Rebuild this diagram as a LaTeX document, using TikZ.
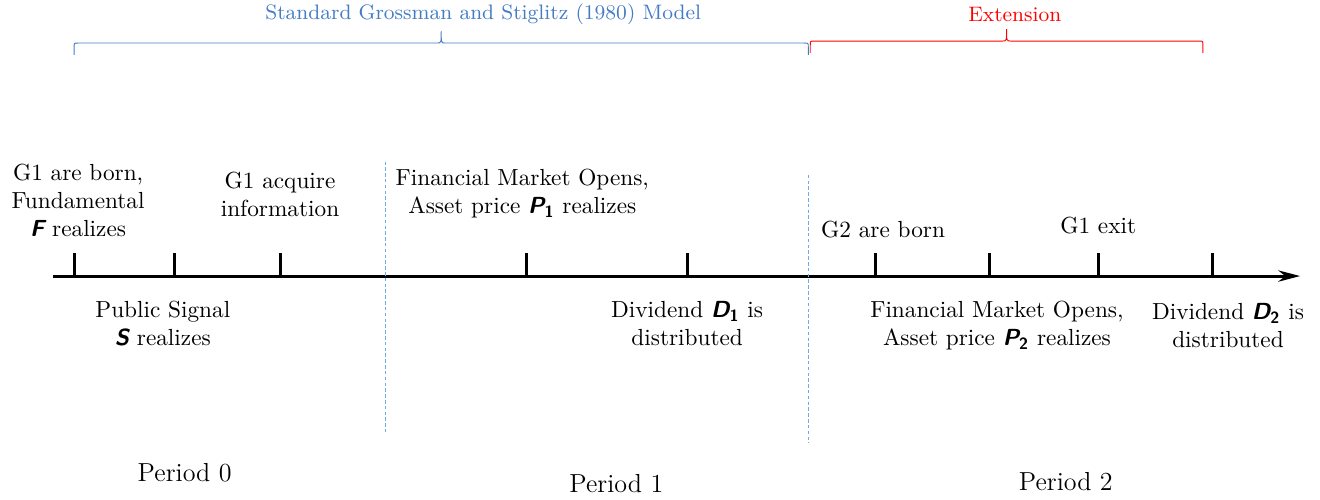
\documentclass[tikz,border=0pt]{standalone}
\usepackage{amsmath}
\usepackage{tikz}
\usetikzlibrary{arrows.meta}

\definecolor{gsblue}{RGB}{68,124,196}
\definecolor{sepblue}{RGB}{115,170,228}
\newcommand{\mvar}[1]{\textsf{\bfseries\itshape #1}}
\newcommand{\msub}[1]{\textsf{\bfseries #1}}
% flat brace: x1, x2, end y, flat y, tip y
\newcommand{\flatbrace}[5]{
  (#1,#3) -- (#1,#4-0.06) .. controls (#1,#4) .. (#1+0.06,#4)
  -- ({(#1+#2)/2-0.06},#4) .. controls ({(#1+#2)/2},#4) .. ({(#1+#2)/2},#5)
  .. controls ({(#1+#2)/2},#4) .. ({(#1+#2)/2+0.06},#4)
  -- (#2-0.06,#4) .. controls (#2,#4) .. (#2,#4-0.06) -- (#2,#3)}

\tikzset{
  event/.style={align=center, inner sep=1pt},
  axis/.style={line width=1.3pt},
  sep/.style={sepblue, line width=0.5pt, dash pattern=on 1.5pt off 1pt},
  period/.style={font=\fontsize{11.2}{13}\selectfont}
}

\begin{document}
\begin{tikzpicture}
 \useasboundingbox (0,0) rectangle (19.94,7.55);

 % time line
 \coordinate (start) at (0.80,3.38);
 \coordinate (end) at (19.64,3.38);
 \draw [axis, -{Stealth[length=0.33cm,width=0.17cm]}] (start) -- (end);
 \foreach \x in {1.12,2.63,4.24,7.96,10.39,13.22,14.95,16.60,18.31}
   \draw [axis] (\x,3.38) -- (\x,3.73);

 % period separators
 \coordinate (s1top) at (5.82,5.11);
 \coordinate (s1bot) at (5.82,1.03);
 \coordinate (s2top) at (12.21,4.91);
 \coordinate (s2bot) at (12.21,0.86);
 \draw [sep] (s1top) -- (s1bot);
 \draw [sep] (s2top) -- (s2bot);

 % events above
 \node [event] (born) at (1.18,4.52) {G1 are born,\\Fundamental\\$\mvar{F}$ realizes};
 \node [event] (acq) at (4.23,4.62) {G1 acquire\\information};
 \node [event] (fmo1) at (7.89,4.62) {Financial Market Opens,\\Asset price $\mvar{P}_{\msub{1}}$ realizes};
 \node [event] (born2) at (13.34,4.08) {G2 are born};
 \node [event] (exit) at (16.59,4.15) {G1 exit};

 % events below
 \node [event] (sig) at (2.46,2.66) {Public Signal\\$\mvar{S}$ realizes};
 \node [event] (div1) at (10.38,2.66) {Dividend $\mvar{D}_{\msub{1}}$ is\\distributed};
 \node [event] (fmo2) at (15.06,2.63) {Financial Market Opens,\\Asset price $\mvar{P}_{\msub{2}}$ realizes};
 \node [event] (div2) at (18.55,2.63) {Dividend $\mvar{D}_{\msub{2}}$ is\\distributed};

 % periods
 \node [period] (p0) at (2.79,0.41) {Period 0};
 \node [period] (p1) at (9.31,0.24) {Period 1};
 \node [period] (p2) at (16.10,0.27) {Period 2};

 % braces
 \draw [gsblue] \flatbrace{1.12}{12.21}{6.72}{6.90}{7.08};
 \draw [red] \flatbrace{12.24}{18.17}{6.75}{6.93}{7.11};
 \node [gsblue, font=\small] (gs) at (7.30,7.33) {Standard Grossman and Stiglitz (1980) Model};
 \node [red, font=\small] (ext) at (15.33,7.33) {Extension};
\end{tikzpicture}
\end{document}
